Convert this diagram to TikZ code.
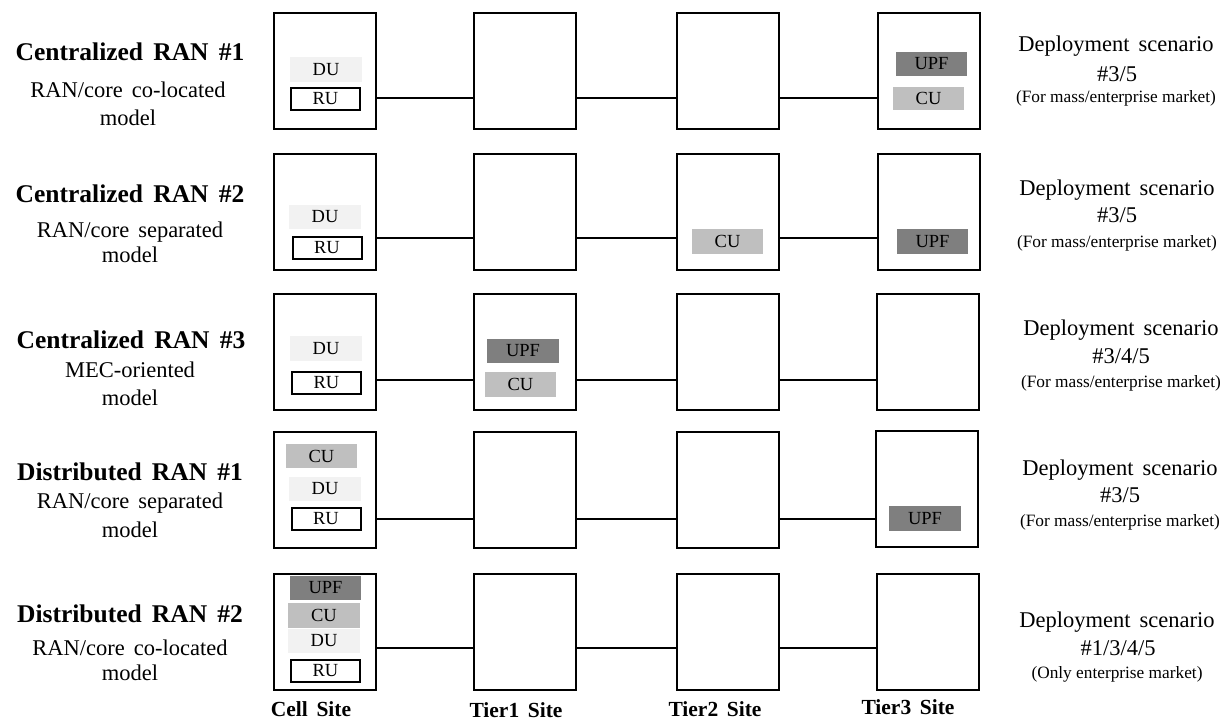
\documentclass[tikz,border=0pt]{standalone}
\usepackage{fontspec}
\setmainfont{Liberation Serif}[WordSpace=1.6]
\newfontfamily\plainserif{Liberation Serif}
\definecolor{duC}{HTML}{F2F2F2}
\definecolor{cuC}{HTML}{BFBFBF}
\definecolor{upfC}{HTML}{7F7F7F}
\tikzset{
  site/.style={draw=black, line width=2.3pt, fill=white, minimum width=102pt, minimum height=116pt, anchor=north west, inner sep=0pt},
  unit/.style={inner sep=0pt, minimum width=72pt, minimum height=24pt, font=\fontsize{18.5}{21}\selectfont},
  du/.style={unit, fill=duC},
  cu/.style={unit, fill=cuC},
  upf/.style={unit, fill=upfC},
  ru/.style={unit, draw=black, line width=2pt, fill=white, minimum width=69pt, minimum height=22pt},
  link/.style={line width=2.2pt},
  ttl/.style={anchor=base, inner sep=0pt, font=\fontsize{25.5}{30}\selectfont\bfseries},
  sub/.style={anchor=base, inner sep=0pt, font=\fontsize{22.5}{26}\selectfont},
  dep/.style={anchor=base, inner sep=0pt, font=\fontsize{22.5}{26}\selectfont},
  depsm/.style={anchor=base, inner sep=0pt, font=\plainserif\fontsize{17.3}{20}\selectfont},
  foot/.style={anchor=base, inner sep=0pt, font=\fontsize{21.5}{25}\selectfont\bfseries}
}
\begin{document}
\begin{tikzpicture}[x=1pt, y=-1pt]
\useasboundingbox (0,0) rectangle (1223,723);
% ---------- outer site boxes ----------
\node[site] (b10) at (273,12) {};
\node[site] (b11) at (473,12) {};
\node[site] (b12) at (676,12) {};
\node[site] (b13) at (877,12) {};
\node[site] (b20) at (273,153) {};
\node[site] (b21) at (473,153) {};
\node[site] (b22) at (676,153) {};
\node[site] (b23) at (877,153) {};
\node[site] (b30) at (273,293) {};
\node[site] (b31) at (473,293) {};
\node[site] (b32) at (676,293) {};
\node[site] (b33) at (876,293) {};
\node[site] (b40) at (273,431) {};
\node[site] (b41) at (473,431) {};
\node[site] (b42) at (676,431) {};
\node[site] (b43) at (875,430) {};
\node[site] (b50) at (273,573) {};
\node[site] (b51) at (473,573) {};
\node[site] (b52) at (676,573) {};
\node[site] (b53) at (876,573) {};
% ---------- connectors ----------
\coordinate (y1) at (0,98);
\coordinate (y2) at (0,238);
\coordinate (y3) at (0,380);
\coordinate (y4) at (0,519);
\coordinate (y5) at (0,648);
\foreach \r in {1,...,5}{
  \draw[link] (b\r0.east |- y\r) -- (b\r1.west |- y\r);
  \draw[link] (b\r1.east |- y\r) -- (b\r2.west |- y\r);
  \draw[link] (b\r2.east |- y\r) -- (b\r3.west |- y\r);
}
% ---------- row 1 ----------
\node[du, minimum height=25pt] (du1) at (326,69.5) {DU};
\node[ru] (ru1) at (325.5,99) {RU};
\node[upf, minimum width=71pt] (upf1) at (931.5,64) {UPF};
\node[cu, minimum width=71pt, minimum height=23pt] (cu1) at (928.5,98.5) {CU};
% ---------- row 2 ----------
\node[du] (du2) at (325,217) {DU};
\node[ru] (ru2) at (327,247.5) {RU};
\node[cu, minimum width=71pt, minimum height=25pt] (cu2) at (727.5,241.5) {CU};
\node[upf, minimum width=71pt, minimum height=25pt] (upf2) at (932.5,241.5) {UPF};
% ---------- row 3 ----------
\node[du, minimum height=25pt] (du3) at (326,348.5) {DU};
\node[ru] (ru3) at (326.5,383) {RU};
\node[upf] (upf3) at (523,351) {UPF};
\node[cu, minimum width=71pt, minimum height=25pt] (cu3) at (520.5,384.5) {CU};
% ---------- row 4 ----------
\node[cu, minimum width=71pt] (cu4) at (321.5,456) {CU};
\node[du] (du4) at (325,489) {DU};
\node[ru] (ru4) at (326,519) {RU};
\node[upf, minimum height=25pt] (upf4) at (925,518.5) {UPF};
% ---------- row 5 ----------
\node[upf, minimum width=71pt] (upf5) at (325.5,588) {UPF};
\node[cu, minimum height=25pt] (cu5) at (324,615.5) {CU};
\node[du] (du5) at (324,641) {DU};
\node[ru] (ru5) at (325.5,671) {RU};
% ---------- left labels ----------
\node[ttl] (t1) at (130,60) {Centralized RAN \#1};
\node[sub] (s1a) at (128,97) {RAN/core co-located};
\node[sub] (s1b) at (128,125) {model};
\node[ttl] (t2) at (130,202) {Centralized RAN \#2};
\node[sub] (s2a) at (130,237) {RAN/core separated};
\node[sub] (s2b) at (130,262) {model};
\node[ttl] (t3) at (131,348) {Centralized RAN \#3};
\node[sub] (s3a) at (130,377) {MEC-oriented};
\node[sub] (s3b) at (130,405) {model};
\node[ttl] (t4) at (130,480) {Distributed RAN \#1};
\node[sub] (s4a) at (130,508) {RAN/core separated};
\node[sub] (s4b) at (130,537) {model};
\node[ttl] (t5) at (130,622) {Distributed RAN \#2};
\node[sub] (s5a) at (130,655) {RAN/core co-located};
\node[sub] (s5b) at (130,680) {model};
% ---------- right labels ----------
\node[dep] (d1a) at (1116,51) {Deployment scenario};
\node[dep] (d1b) at (1117,81) {\#3/5};
\node[depsm] (d1c) at (1116,102) {(For mass/enterprise market)};
\node[dep] (d2a) at (1117,195) {Deployment scenario};
\node[dep] (d2b) at (1117,222) {\#3/5};
\node[depsm] (d2c) at (1117,247) {(For mass/enterprise market)};
\node[dep] (d3a) at (1121,335) {Deployment scenario};
\node[dep] (d3b) at (1121,363) {\#3/4/5};
\node[depsm] (d3c) at (1121,387) {(For mass/enterprise market)};
\node[dep] (d4a) at (1120,475) {Deployment scenario};
\node[dep] (d4b) at (1120,502) {\#3/5};
\node[depsm] (d4c) at (1120,526) {(For mass/enterprise market)};
\node[dep] (d5a) at (1117,627) {Deployment scenario};
\node[dep] (d5b) at (1118,655) {\#1/3/4/5};
\node[depsm] (d5c) at (1117,678) {(Only enterprise market)};
% ---------- column labels ----------
\node[foot] (f0) at (311,716) {Cell Site};
\node[foot] (f1) at (516,717) {Tier1 Site};
\node[foot] (f2) at (715,716) {Tier2 Site};
\node[foot] (f3) at (908,714) {Tier3 Site};
\end{tikzpicture}
\end{document}
